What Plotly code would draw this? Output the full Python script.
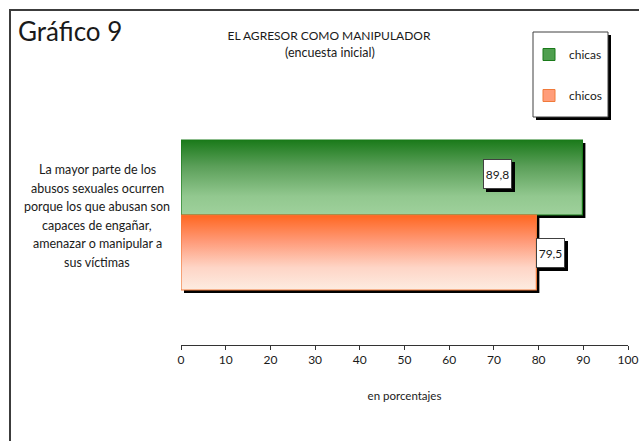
import plotly.graph_objects as go

# ---------------- data ----------------
categoria = ("La mayor parte de los<br>abusos sexuales ocurren<br>porque los que abusan son"
             "<br>capaces de engañar,<br>amenazar o manipular a<br>sus víctimas")
series = ["chicas", "chicos"]
valores = [89.8, 79.5]
etiquetas = ["89,8", "79,5"]
x_ticks = [0, 10, 20, 30, 40, 50, 60, 70, 80, 90, 100]

# ---------------- styling ----------------
FONT = "Lato"
W, H = 639, 441
ML, MR, MT, MB = 181, 11, 85, 96
PW, PH = W - ML - MR, H - MT - MB

def px_x(p):
    return (p - ML) / PW

def px_y(p):
    return (H - MB - p) / PH

BAR_H = 75 / PH          # each bar thickness in y units
DX = 3 * 100 / PW        # shadow offset (3 px)
DY = 3 / PH

grad = {
    "chicas": [[0, "#9fd19c"], [0.25, "#92c88f"], [0.65, "#5b9f59"], [1, "#1a7a1a"]],
    "chicos": [[0, "#fdece1"], [0.3, "#fed5c6"], [0.65, "#ff9a78"], [1, "#ff6620"]],
}
edge = {"chicas": "#1a7a1a", "chicos": "#f07a3a"}
legend_fill = {"chicas": "#4f9f4f", "chicos": "#ff9d7a"}

bands = {"chicas": (0, BAR_H), "chicos": (-BAR_H, 0)}

def rect(v, y0, y1, dx=0.0, dy=0.0):
    xs = [0 + dx, v + dx, v + dx, 0 + dx, 0 + dx]
    ys = [y0 - dy, y0 - dy, y1 - dy, y1 - dy, y0 - dy]
    return xs, ys

fig = go.Figure()

for s, v in zip(series, valores):
    y0, y1 = bands[s]
    xs, ys = rect(v, y0, y1, DX, DY)
    fig.add_trace(go.Scatter(x=xs, y=ys, mode="lines", fill="toself",
                             fillcolor="#000000", line=dict(width=0, color="#000000"),
                             hoverinfo="skip", showlegend=False))

for s, v in zip(series, valores):
    y0, y1 = bands[s]
    xs, ys = rect(v, y0, y1)
    fig.add_trace(go.Scatter(x=xs, y=ys, mode="lines", fill="toself",
                             fillgradient=dict(type="vertical", colorscale=grad[s]),
                             line=dict(width=1.2, color=edge[s]),
                             name=s, hoverinfo="skip", showlegend=False))

for s in series:
    fig.add_trace(go.Bar(x=[None], y=[None], name=s, orientation="h",
                         marker=dict(color=legend_fill[s], line=dict(color=edge[s], width=1)),
                         legendgroup=s, showlegend=True))

label_pos = {"chicas": dict(xanchor="right", xshift=-70, yshift=4),
             "chicos": dict(xanchor="left", xshift=0, yshift=0)}
for s, v, t in zip(series, valores, etiquetas):
    y0, y1 = bands[s]
    yc = (y0 + y1) / 2
    p = label_pos[s]
    # shadow box
    fig.add_annotation(x=v, y=yc, xref="x", yref="y", text=" ", showarrow=False,
                       xanchor=p["xanchor"], yanchor="middle",
                       xshift=p["xshift"] + 3, yshift=p["yshift"] - 3,
                       width=27, height=28, borderpad=0, borderwidth=1,
                       bgcolor="#000000", bordercolor="#000000",
                       font=dict(family=FONT, size=12, color="#000000"))
    fig.add_annotation(x=v, y=yc, xref="x", yref="y", text=t, showarrow=False,
                       xanchor=p["xanchor"], yanchor="middle",
                       xshift=p["xshift"], yshift=p["yshift"],
                       width=27, height=28, borderpad=0, borderwidth=1,
                       bgcolor="#ffffff", bordercolor="#404040",
                       font=dict(family=FONT, size=12, color="#1a1a1a"))

# category label, one line per row with Excel-like line spacing
lineas = categoria.split("<br>")
LINE = 18.5
n = len(lineas)
for i, ln in enumerate(lineas):
    fig.add_annotation(x=px_x(97), y=0, xref="paper", yref="y", text=ln,
                       showarrow=False, align="center", xanchor="center", yanchor="middle",
                       yshift=((n - 1) / 2 - i) * LINE - 1,
                       font=dict(family=FONT, size=12.5, color="#1a1a1a"))

fig.add_annotation(x=px_x(16), y=px_y(31), xref="paper", yref="paper", text="Gráfico 9",
                   showarrow=False, xanchor="left", yanchor="middle",
                   font=dict(family=FONT, size=26, color="#1a1a1a"))

fig.add_annotation(x=px_x(329.5), y=px_y(52), xref="paper", yref="paper",
                   text="(encuesta inicial)", showarrow=False,
                   xanchor="center", yanchor="middle",
                   font=dict(family=FONT, size=12.5, color="#1a1a1a"))

fig.add_shape(type="rect", xref="paper", yref="paper",
              x0=px_x(10), x1=px_x(720), y0=px_y(520), y1=px_y(10),
              line=dict(color="#3c3c3c", width=2), fillcolor="rgba(0,0,0,0)", layer="above")

fig.add_shape(type="rect", xref="paper", yref="paper",
              x0=px_x(536), x1=px_x(611), y0=px_y(120), y1=px_y(35),
              line=dict(width=0), fillcolor="#000000", layer="above")
fig.add_shape(type="rect", xref="paper", yref="paper",
              x0=px_x(533), x1=px_x(608), y0=px_y(117), y1=px_y(32),
              line=dict(color="#404040", width=1), fillcolor="#ffffff", layer="above")

fig.update_layout(
    width=W, height=H,
    margin=dict(l=ML, r=MR, t=MT, b=MB, autoexpand=False),
    paper_bgcolor="#ffffff", plot_bgcolor="#ffffff",
    font=dict(family=FONT, size=12, color="#1a1a1a"),
    title=dict(text="EL AGRESOR COMO MANIPULADOR",
               x=329 / W, xanchor="center", xref="container",
               y=1 - 35.5 / H, yanchor="middle", yref="container",
               font=dict(family=FONT, size=12, color="#1a1a1a")),
    xaxis=dict(range=[0, 100], tickvals=x_ticks, ticktext=[str(t) for t in x_ticks],
               showline=True, linecolor="#333333", linewidth=1,
               ticks="outside", ticklen=4, tickcolor="#333333",
               showgrid=False, zeroline=False, automargin=False,
               tickfont=dict(family=FONT, size=12, color="#1a1a1a"),
               title=dict(text="en porcentajes", standoff=25,
                          font=dict(family=FONT, size=11.5, color="#1a1a1a"))),
    yaxis=dict(range=[-0.5, 0.5], showticklabels=False, showgrid=False,
               zeroline=False, showline=False, ticks="", automargin=False),
    showlegend=True,
    legend=dict(x=px_x(529), xanchor="left", y=px_y(40), yanchor="top",
                bgcolor="rgba(0,0,0,0)", borderwidth=0,
                traceorder="grouped", tracegroupgap=22,
                font=dict(family=FONT, size=12, color="#1a1a1a")),
)

fig.write_html("out.html", config={"displayModeBar": False},
               post_script="document.body.style.margin='0';document.body.style.overflow='hidden';")
